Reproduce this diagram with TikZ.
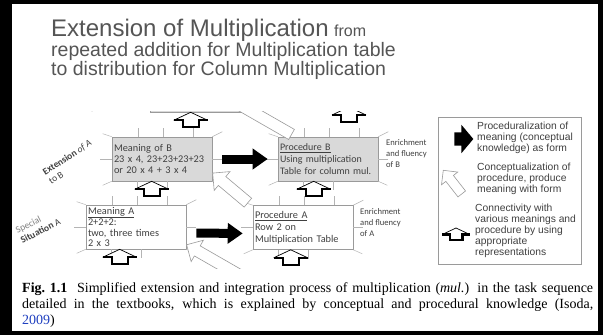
\documentclass[tikz,border=0pt]{standalone}
\usepackage{fontspec}
\setmainfont{Liberation Serif}
\newfontfamily\boxfont{Carlito}
\newfontfamily\slidefont{Liberation Sans}
\usetikzlibrary{arrows.meta,shapes.arrows,calc}
\definecolor{inkgray}{HTML}{404040}
\definecolor{titlegray}{HTML}{555555}
\definecolor{boxgray}{HTML}{D9D9D9}
\definecolor{rimgray}{HTML}{9A9A9A}
\definecolor{tickgray}{HTML}{B4B4B4}
\definecolor{citeblue}{HTML}{2040C0}
\tikzset{
  mbox/.style={draw=rimgray,line width=0.6pt,minimum width=100pt,minimum height=44pt,inner xsep=2pt,inner ysep=0pt,text width=96pt,align=left,text=inkgray,font=\boxfont\fontsize{10.3}{11}\selectfont},
  tick/.style={draw=tickgray,line width=0.5pt},
  procarrow/.style={line width=9pt,-{Triangle[width=20pt,length=15pt]},shorten <=10pt,shorten >=10pt},
  hollowarrow/.style={single arrow,draw=rimgray,fill=white,line width=0.6pt,inner sep=5.5pt,single arrow head extend=6.5pt,sloped,allow upside down},
  sidelabel/.style={anchor=north west,inner sep=0pt,align=left,text=inkgray,font=\boxfont\fontsize{8.6}{11.3}\selectfont},
  slantlabel/.style={align=left,inner sep=0pt,text=inkgray,font=\boxfont\fontsize{9.5}{11}\selectfont},
  legendtext/.style={anchor=north west,align=left,inner sep=0pt,text=inkgray,font=\slidefont\fontsize{10.3}{10.9}\selectfont},
  linkicon/.pic={
    \fill[white] (-17,8) -- (0,0) -- (17,8) -- (8,8) -- (8,15) -- (-8,15) -- (-8,8) -- cycle;
    \draw[line width=0.7pt] (-17,8) -- (0,0) -- (17,8);
    \draw[line width=2.2pt,line join=miter] (-17,8) -- (-8,8) -- (-8,15) -- (8,15) -- (8,8) -- (17,8);
  }
}
\newcommand{\boxticks}[1]{%
  \draw[tick] (#1.north west) -- ++(-9,-3);
  \draw[tick] (#1.north east) -- ++(10,-5);
  \draw[tick] (#1.south west) -- ++(-9,4);
  \draw[tick] (#1.south east) -- ++(9,4);
  \draw[tick] (#1.west) -- ++(-12,0);
  \draw[tick] (#1.east) -- ++(10,0);
  \foreach \t in {0.26,0.51,0.81}
    \draw[tick] ($(#1.north west)!\t!(#1.north east)$) -- ++(0,-9);
  \foreach \t in {0.25,0.55}
    \draw[tick] ($(#1.south west)!\t!(#1.south east)$) -- ++(0,9);
}

\begin{document}
\begin{tikzpicture}[x=1pt,y=-1pt]
\useasboundingbox (0,0) rectangle (603,335);
% slide frame
\fill[black] (0,0) rectangle (603,335);
\fill[white] (12,4) rectangle (598,331);

\node[anchor=north west,inner sep=0pt,align=left,text=titlegray,font=\slidefont\fontsize{19.5}{16.2}\selectfont] (title) at (51,19)
  {{\fontsize{24}{16.2}\selectfont Extension of Multiplication} {\fontsize{16}{16.2}\selectfont from}\\
   repeated addition for Multiplication table\\
   to distribution for Column Multiplication};

\begin{scope}
\clip (14,111.5) rectangle (596,268.5);
% the four stages
\node[mbox,fill=boxgray] (mC) at (200,90) {};
\node[mbox,fill=boxgray] (mB) at (162,159) {Meaning of B\\23 x 4, 23+23+23+23\\or 20 x 4 + 3 x 4};
\node[mbox,fill=boxgray,font=\boxfont\fontsize{10}{12}\selectfont] (pB) at (328,159) {\underline{Procedure B}\\Using multiplication\\Table for column mul.};
\node[mbox,fill=white,font=\boxfont\fontsize{10.3}{10.3}\selectfont] (mA) at (136,227) {\underline{Meaning A}\\2+2+2:\\two, three times\\2 x 3};
\node[mbox,fill=white,font=\boxfont\fontsize{10.3}{12}\selectfont] (pA) at (303,227.5) {\underline{Procedure A}\\Row 2 on\\Multiplication Table};
\foreach \b in {mB,pB,mA,pA} {\boxticks{\b}}

% proceduralization
\draw[procarrow] (mB) -- (pB);
\draw[procarrow] ([yshift=-6pt]mA.east) -- ([yshift=-6pt]pA.west);

% conceptualization
\path ([shift={(-3,-1)}]pA.north west) -- node[hollowarrow,minimum height=46pt] (hA) {} ([shift={(3,-6)}]mB.south east);
\path ([shift={(16,-1)}]pB.north west) -- node[hollowarrow,minimum height=90pt] (hB) {} ([shift={(-34,-21)}]mC.south east);
\coordinate (pZ) at (241,276);
\path (pZ) -- node[hollowarrow,minimum height=60pt] (hZ) {} ([shift={(3,-3)}]mA.south east);

% connectivity
\pic at ([xshift=41pt]mC.south west) {linkicon};
\pic at ([xshift=40pt]mB.south west) {linkicon};
\pic at (349,107) {linkicon};
\pic at ([xshift=36pt]pB.south west) {linkicon};
\pic at ([xshift=34pt]mA.south west) {linkicon};
\pic at ([xshift=38pt]pA.south west) {linkicon};

\node[sidelabel] (eB) at (386,139) {Enrichment\\and fluency\\of B};
\node[sidelabel] (eA) at (360,208) {Enrichment\\and fluency\\of A};

\node[slantlabel,rotate=33] (extAB) at (70,162) {\textbf{Extension} \textit{of A}\\to B};
\node[slantlabel,rotate=27] (spA) at (38,226) {{\color{gray}Special}\\\textbf{Situation} A};
\node[slantlabel,rotate=33] (extBC) at (93,108) {to};

% legend
\node[draw=rimgray,line width=0.5pt,minimum width=143pt,minimum height=147pt,inner sep=0pt] (legend) at (509.5,190.5) {};
\node[single arrow,fill=black,minimum height=18pt,inner sep=6.5pt,single arrow head extend=7.5pt,single arrow tip angle=100] (lgSolid) at (461,139) {};
\node[single arrow,draw=rimgray,fill=white,line width=0.6pt,minimum height=30pt,inner sep=4.5pt,single arrow head extend=5.5pt,rotate=128] (lgHollow) at (454,184) {};
\pic[scale=0.8] at (456,228) {linkicon};
\node[legendtext] (lgT1) at (477,122) {Proceduralization of\\meaning (conceptual\\knowledge) as form};
\node[legendtext] (lgT2) at (477,163) {Conceptualization of\\procedure, produce\\meaning with form};
\node[legendtext] (lgT3) at (475,204) {Connectivity with\\various meanings and\\procedure by using\\appropriate\\representations};
\end{scope}

\node[anchor=north west,inner sep=0pt,text width=571pt,align=justify,font=\fontsize{14}{16}\selectfont] (caption) at (22,282)
  {\textbf{Fig.~1.1}\hspace{0.7em}Simplified extension and integration process of multiplication (\textit{mul.}) in the task sequence\linebreak
   detailed in the textbooks, which is explained by conceptual and procedural knowledge (Isoda,\linebreak
   \textcolor{citeblue}{2009})};
\end{tikzpicture}
\end{document}
